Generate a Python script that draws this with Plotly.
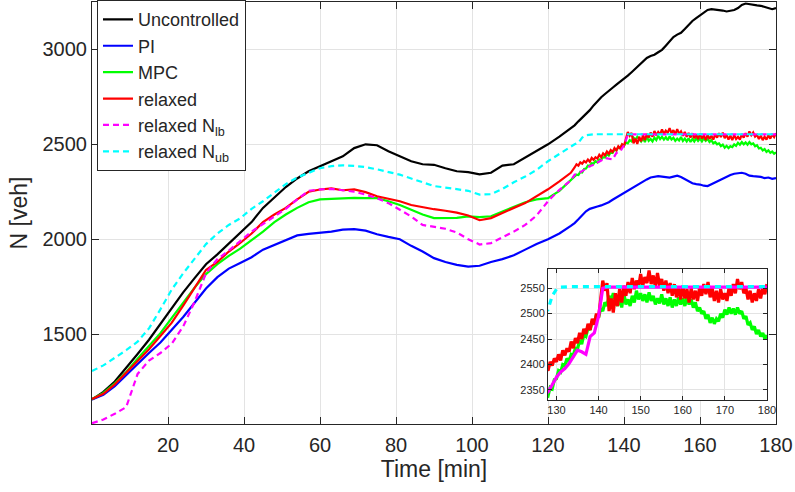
import plotly.graph_objects as go

# ---------------- data ----------------
t_coarse = list(range(0, 127, 3))                    # 0..126 min, 43 points
t_fine = list(range(127, 181))                       # 127..180 min, 54 points
t_half = [127 + 0.5 * i for i in range(107)]         # 127..180 min every 0.5 min

uncontrolled = [1155, 1195, 1250, 1320, 1395, 1470, 1555, 1640, 1720, 1795, 1868, 1920, 1975, 2030, 2090,
                2165, 2218, 2275, 2320, 2358, 2384, 2411, 2437, 2480, 2500, 2495, 2463, 2437, 2411, 2395,
                2392, 2374, 2358, 2353, 2342, 2350, 2388, 2395, 2430, 2465, 2500, 2540, 2585,
                2600, 2621, 2640, 2658, 2680, 2705, 2728, 2748, 2765, 2780, 2798, 2815, 2830, 2845,
                2862, 2880, 2900, 2918, 2935, 2955, 2965, 2972, 2985, 2998, 3020, 3045, 3065, 3078,
                3088, 3108, 3130, 3150, 3165, 3178, 3195, 3208, 3212, 3210, 3210, 3205, 3200, 3203,
                3208, 3218, 3235, 3242, 3238, 3236, 3232, 3230, 3225, 3218, 3212, 3218]

pi_ctrl = [1155, 1180, 1225, 1285, 1345, 1400, 1455, 1520, 1590, 1665, 1740, 1800, 1845, 1875, 1905,
           1945, 1970, 1995, 2020, 2028, 2032, 2040, 2050, 2053, 2045, 2026, 2012, 2000, 1965, 1935,
           1900, 1880, 1865, 1855, 1860, 1880, 1895, 1915, 1945, 1975, 2000, 2030, 2070,
           2085, 2105, 2125, 2147, 2160, 2168, 2172, 2178, 2185, 2195, 2208, 2220, 2232, 2242,
           2255, 2268, 2282, 2292, 2302, 2315, 2325, 2330, 2332, 2330, 2328, 2325, 2330, 2335,
           2328, 2318, 2305, 2295, 2290, 2288, 2282, 2280, 2290, 2300, 2312, 2322, 2330, 2338,
           2345, 2348, 2350, 2345, 2335, 2332, 2330, 2328, 2322, 2325, 2318, 2322]

mpc_coarse = [1158, 1190, 1240, 1300, 1370, 1435, 1505, 1585, 1665, 1745, 1816, 1868, 1912, 1950, 1995,
              2040, 2090, 2130, 2165, 2195, 2210, 2213, 2216, 2218, 2216, 2216, 2200, 2180, 2155, 2130,
              2111, 2110, 2112, 2120, 2116, 2121, 2145, 2170, 2195, 2210, 2216, 2255, 2310]
mpc_half = [2328, 2340, 2338, 2355, 2352, 2370, 2372, 2388, 2385, 2400,
            2398, 2412, 2405, 2420, 2418, 2432, 2430, 2448, 2440, 2458,
            2455, 2472, 2468, 2485, 2480, 2498, 2492, 2510, 2505, 2522,
            2515, 2535, 2525, 2540, 2528, 2515, 2532, 2512, 2540, 2518,
            2528, 2515, 2535, 2522, 2545, 2528, 2540, 2525, 2538, 2522,
            2542, 2525, 2535, 2518, 2530, 2520, 2538, 2518, 2530, 2515,
            2532, 2512, 2528, 2515, 2532, 2518, 2530, 2515, 2532, 2518,
            2528, 2512, 2522, 2505, 2512, 2500, 2505, 2490, 2498, 2482,
            2492, 2480, 2490, 2485, 2500, 2492, 2508, 2498, 2512, 2500,
            2510, 2498, 2512, 2500, 2505, 2490, 2495, 2478, 2482, 2468,
            2475, 2460, 2468, 2455, 2462, 2450, 2458]

relaxed_coarse = [1158, 1185, 1235, 1295, 1360, 1420, 1490, 1560, 1650, 1745, 1838, 1880, 1935, 1980, 2030,
                  2090, 2130, 2165, 2210, 2250, 2262, 2268, 2258, 2262, 2248, 2226, 2212, 2200, 2180, 2168,
                  2158, 2150, 2140, 2125, 2100, 2111, 2140, 2165, 2190, 2225, 2263, 2305, 2350]
relaxed_half = [2378, 2395, 2388, 2405, 2398, 2412, 2405, 2420, 2408, 2428,
                2418, 2432, 2425, 2445, 2432, 2452, 2442, 2462, 2450, 2470,
                2460, 2480, 2468, 2490, 2478, 2500, 2492, 2530, 2565, 2545,
                2560, 2505, 2530, 2502, 2540, 2515, 2548, 2522, 2555, 2535,
                2562, 2540, 2570, 2548, 2565, 2552, 2578, 2555, 2572, 2560,
                2585, 2558, 2575, 2552, 2580, 2555, 2568, 2545, 2565, 2540,
                2560, 2535, 2558, 2532, 2552, 2528, 2555, 2530, 2548, 2522,
                2550, 2528, 2545, 2525, 2552, 2535, 2558, 2538, 2562, 2532,
                2550, 2525, 2545, 2522, 2548, 2528, 2540, 2525, 2552, 2535,
                2558, 2540, 2568, 2548, 2562, 2540, 2550, 2528, 2545, 2522,
                2540, 2525, 2548, 2530, 2552, 2538, 2558]

relaxed_lb = [1030, 1050, 1080, 1115, 1290, 1360, 1400, 1450, 1540, 1670, 1820, 1895, 1940, 1990, 2040,
              2080, 2120, 2160, 2210, 2255, 2262, 2265, 2258, 2250, 2235, 2216, 2190, 2155, 2120, 2075,
              2063, 2055, 2035, 2000, 1972, 1979, 2010, 2040, 2075, 2125, 2200, 2260, 2310,
              2340, 2346, 2360, 2375, 2385, 2392, 2402, 2415, 2428, 2425, 2420, 2455, 2462, 2495,
              2550, 2552, 2552, 2552, 2552, 2552, 2552, 2552, 2552, 2552, 2552, 2552, 2552, 2552,
              2552, 2552, 2552, 2552, 2552, 2552, 2552, 2552, 2552, 2552, 2552, 2552, 2552, 2552,
              2552, 2552, 2552, 2552, 2552, 2552, 2552, 2552, 2552, 2552, 2552, 2552]

relaxed_ub = [1305, 1335, 1375, 1415, 1460, 1530, 1630, 1735, 1820, 1900, 1974, 2030, 2075, 2110, 2160,
              2200, 2245, 2290, 2325, 2350, 2374, 2385, 2389, 2386, 2380, 2368, 2355, 2340, 2320, 2300,
              2280, 2272, 2265, 2255, 2235, 2237, 2265, 2300, 2330, 2365, 2411, 2450, 2490,
              2500, 2508, 2535, 2548, 2552, 2553, 2553, 2553, 2553, 2553, 2553, 2553, 2553, 2553,
              2553, 2553, 2553, 2553, 2553, 2553, 2553, 2553, 2553, 2553, 2553, 2553, 2553, 2553,
              2553, 2553, 2553, 2553, 2553, 2553, 2553, 2553, 2553, 2553, 2553, 2553, 2553, 2553,
              2553, 2553, 2553, 2553, 2553, 2553, 2553, 2553, 2553, 2553, 2553, 2553]

t_1 = t_coarse + t_fine
t_2 = t_coarse + t_half
mpc = mpc_coarse + mpc_half
relaxed = relaxed_coarse + relaxed_half

series_names = ["Uncontrolled", "PI", "MPC", "relaxed", "relaxed N<sub>lb</sub>", "relaxed N<sub>ub</sub>"]
series_x = [t_1, t_1, t_2, t_2, t_1, t_1]
series_data = [uncontrolled, pi_ctrl, mpc, relaxed, relaxed_lb, relaxed_ub]
series_colors = ["#000000", "#0000ff", "#00ff00", "#ff0000", "#ff00ff", "#00ffff"]
series_dash = ["solid", "solid", "solid", "solid", "6px,4px", "6px,4px"]

inset_start = 127

# ---------------- figure ----------------
fig = go.Figure()
for name, xs, ys, col, dsh in zip(series_names, series_x, series_data, series_colors, series_dash):
    fig.add_trace(go.Scatter(x=xs, y=ys, mode="lines", name=name,
                             line=dict(color=col, width=2.2, dash=dsh),
                             xaxis="x", yaxis="y"))

# inset (zoom of the last part)
inset_series = [(t_2, mpc, "#00ff00", "solid"), (t_2, relaxed, "#ff0000", "solid"),
                (t_1, relaxed_lb, "#ff00ff", "solid"), (t_1, relaxed_ub, "#00ffff", "6px,5px")]
for xs, ys, col, dsh in inset_series:
    idx = [i for i, t in enumerate(xs) if t >= inset_start]
    fig.add_trace(go.Scatter(x=[xs[i] for i in idx], y=[ys[i] for i in idx],
                             mode="lines", showlegend=False,
                             line=dict(color=col, width=3.2, dash=dsh),
                             xaxis="x2", yaxis="y2"))

axis_common = dict(ticks="inside", showline=True, linecolor="#262626", linewidth=1,
                   mirror="ticks", tickcolor="#262626", showgrid=True, gridcolor="#e3e3e3",
                   zeroline=False)

fig.update_layout(
    width=795, height=492,
    margin=dict(l=92, r=19, t=1, b=68),
    paper_bgcolor="white", plot_bgcolor="white",
    font=dict(family="Liberation Sans, Arial, sans-serif", color="#262626", size=20),
    xaxis=dict(range=[0, 180], tickvals=[20, 40, 60, 80, 100, 120, 140, 160, 180], ticklen=7,
               tickfont=dict(size=20), ticklabelstandoff=3,
               title=dict(text="Time [min]", font=dict(size=23), standoff=4),
               **axis_common),
    yaxis=dict(range=[1026, 3250], tickvals=[1500, 2000, 2500, 3000], ticklen=7,
               tickfont=dict(size=20), title=dict(text="N [veh]", font=dict(size=23), standoff=8),
               **axis_common),
    xaxis2=dict(domain=[0.6667, 0.9868], anchor="y2", range=[128, 180],
                tickvals=[130, 140, 150, 160, 170, 180], ticklen=4, tickfont=dict(size=11),
                **axis_common),
    yaxis2=dict(domain=[0.0567, 0.3664], anchor="x2", range=[2330, 2587],
                tickvals=[2350, 2400, 2450, 2500, 2550], ticklen=4, tickfont=dict(size=11),
                **axis_common),
    legend=dict(x=0.0073, y=1.002, xanchor="left", yanchor="top", bgcolor="white",
                bordercolor="#262626", borderwidth=1, font=dict(size=18), tracegroupgap=0,
                itemwidth=30),
    showlegend=True,
)

fig.write_html("out.html")
